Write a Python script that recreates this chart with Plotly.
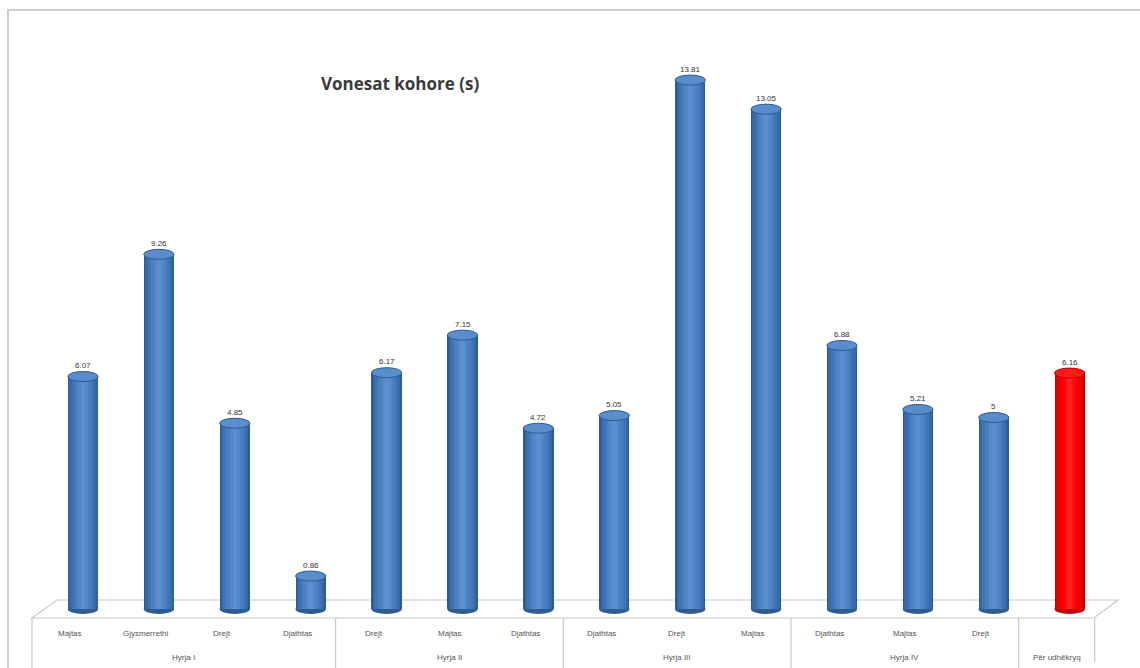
import plotly.graph_objects as go

# Arrival delays per approach and turning direction (seconds)
groups = ["Hyrja I", "Hyrja II", "Hyrja III", "Hyrja IV", "Për udhëkryq"]
group_sizes = [4, 3, 3, 3, 1]
directions = ["Majtas", "Gjysmerrethi", "Drejt", "Djathtas",
              "Drejt", "Majtas", "Djathtas",
              "Djathtas", "Drejt", "Majtas",
              "Djathtas", "Majtas", "Drejt",
              ""]
delays = [6.07, 9.26, 4.85, 0.86,
          6.17, 7.15, 4.72,
          5.05, 13.81, 13.05,
          6.88, 5.21, 5,
          6.16]
value_labels = ["6.07", "9.26", "4.85", "0.86",
                "6.17", "7.15", "4.72",
                "5.05", "13.81", "13.05",
                "6.88", "5.21", "5",
                "6.16"]

W, H = 1140, 668
CELL = 75.9          # pixel width of one category
X0_PX = 83           # pixel centre of the first cylinder
BASE_PX = 609        # pixel row of the cylinder bases
PX_PER_UNIT = 38.3   # vertical pixels per second

x_range = [-X0_PX / CELL, (W - X0_PX) / CELL]
y_range = [-(H - BASE_PX) / PX_PER_UNIT, BASE_PX / PX_PER_UNIT]


def px(xp):
    return xp / W


def py(yp):
    return 1 - yp / H


xs = list(range(len(delays)))
n_total = len(delays)
is_total = [i == n_total - 1 for i in xs]

# cylinder shading: concentric bars from dark rim to light core
blue_layers = [(0.40, "#2f5b93"), (0.36, "#3868a6"), (0.30, "#4174b5"),
               (0.22, "#4a80c2"), (0.13, "#5389cb"), (0.06, "#5a8fd0")]
red_layers = [(0.40, "#c40000"), (0.36, "#dc0000"), (0.30, "#ee0000"),
              (0.22, "#fa0000"), (0.13, "#ff1010"), (0.06, "#ff2020")]

fig = go.Figure()
for (wb, cb), (wr, cr) in zip(blue_layers, red_layers):
    fig.add_trace(go.Bar(
        x=xs, y=delays, width=wb,
        marker=dict(color=[cr if t else cb for t in is_total], line_width=0),
        hoverinfo="skip", showlegend=False,
    ))

shapes = []
line_col = "#c9c9c9"

# chart frame
shapes.append(dict(type="path", xref="paper", yref="paper",
                   path=f"M {px(8)} {py(H)} L {px(8)} {py(10)} L {px(W)} {py(10)}",
                   line=dict(color="#cfcfcf", width=2), layer="below"))

# floor in perspective
floor = (f"M {px(32)} {py(618)} L {px(57)} {py(600)} L {px(1118)} {py(600)} "
         f"L {px(1094)} {py(618)} Z")
shapes.append(dict(type="path", xref="paper", yref="paper", path=floor,
                   fillcolor="white", line=dict(color=line_col, width=1.2),
                   layer="below"))

# category table lines below the floor
edges = [0]
for g in group_sizes:
    edges.append(edges[-1] + g)
for k, e in enumerate(edges):
    xline = 32 + CELL * e
    y_end = H if k < len(edges) - 1 else 662
    shapes.append(dict(type="line", xref="paper", yref="paper",
                       x0=px(xline), x1=px(xline), y0=py(618), y1=py(y_end),
                       line=dict(color=line_col, width=1.2), layer="below"))

# elliptical bases and tops of the cylinders
R_X = 0.20
R_Y = 5.0 / PX_PER_UNIT
for i, v in enumerate(delays):
    rim = "#c40000" if is_total[i] else "#2f5b93"
    top = "#ff1a1a" if is_total[i] else "#5a8dcc"
    shapes.append(dict(type="circle", xref="x", yref="y",
                       x0=i - R_X, x1=i + R_X, y0=-R_Y, y1=R_Y,
                       fillcolor=rim, line=dict(width=0), layer="below"))
    shapes.append(dict(type="circle", xref="x", yref="y",
                       x0=i - R_X, x1=i + R_X, y0=v - R_Y, y1=v + R_Y,
                       fillcolor=top, line=dict(color=rim, width=1),
                       layer="above"))

annotations = []
label_font = dict(family="Liberation Sans, Arial, sans-serif", size=8, color="#555555")

# value labels above each cylinder
for i, (v, t) in enumerate(zip(delays, value_labels)):
    annotations.append(dict(x=i, y=v, xref="x", yref="y", text=t,
                            showarrow=False, yshift=11, yanchor="middle",
                            font=dict(family="Liberation Sans, Arial, sans-serif",
                                      size=8, color="#333333")))

# direction labels
for i, d in enumerate(directions):
    if d:
        annotations.append(dict(x=i, y=py(633), xref="x", yref="paper", text=d,
                                showarrow=False, xshift=-13, yanchor="middle",
                                font=label_font))

# group labels
for k, g in enumerate(groups):
    center = (edges[k] + edges[k + 1] - 1) / 2
    annotations.append(dict(x=center, y=py(657), xref="x", yref="paper", text=g,
                            showarrow=False, xshift=-13, yanchor="middle",
                            font=label_font))

# chart title
annotations.append(dict(x=px(400), y=py(83), xref="paper", yref="paper",
                        text="<b>Vonesat kohore (s)</b>", showarrow=False,
                        xanchor="center", yanchor="middle",
                        font=dict(family="Open Sans, Lato, sans-serif",
                                  size=17, color="#3a3a3a")))

fig.update_layout(
    width=W, height=H,
    margin=dict(l=0, r=0, t=0, b=0),
    paper_bgcolor="white", plot_bgcolor="rgba(0,0,0,0)",
    barmode="overlay", bargap=0,
    xaxis=dict(range=x_range, visible=False, fixedrange=True),
    yaxis=dict(range=y_range, visible=False, fixedrange=True),
    shapes=shapes, annotations=annotations,
    showlegend=False,
)

fig.write_html("out.html", config={"displayModeBar": False})
